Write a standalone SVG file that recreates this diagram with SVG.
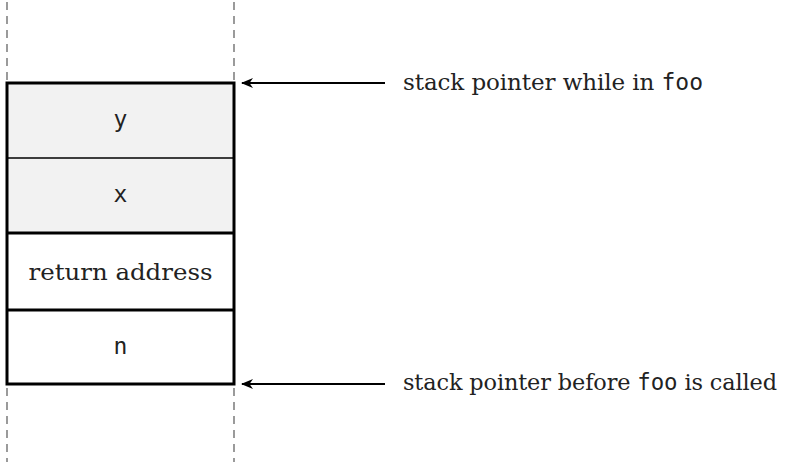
<svg xmlns="http://www.w3.org/2000/svg" width="787" height="462" viewBox="0 0 787 462">
<style>
.serif{font-family:"DejaVu Serif","Liberation Serif",serif;font-size:23px;fill:#222}
.mono{font-family:"DejaVu Sans Mono","Liberation Mono",monospace;font-size:23px;fill:#222}
.cell{stroke:#000;stroke-width:3}
.dash{stroke:#666;stroke-width:1.3;stroke-dasharray:8 6;fill:none}
.arrow{stroke:#000;stroke-width:1.8;fill:none;marker-end:url(#head)}
</style>
<defs>
<marker id="head" viewBox="0 0 12 10" refX="11" refY="5" markerWidth="12" markerHeight="10" markerUnits="userSpaceOnUse" orient="auto">
<path d="M0,0 L12,5 L0,10 L3.5,5 Z" fill="#000"/>
</marker>
</defs>
<g id="guides">
<line class="dash" x1="7" y1="2" x2="7" y2="81"/>
<line class="dash" x1="234" y1="2" x2="234" y2="81"/>
<line class="dash" x1="7" y1="388" x2="7" y2="462"/>
<line class="dash" x1="234" y1="388" x2="234" y2="462"/>
</g>
<g id="node-y">
<rect x="7" y="83" width="227" height="75" fill="#f2f2f2"/>
<text class="mono" x="120.5" y="127" text-anchor="middle">y</text>
</g>
<g id="node-x">
<rect x="7" y="158" width="227" height="75" fill="#f2f2f2"/>
<text class="mono" x="120.5" y="202" text-anchor="middle">x</text>
</g>
<g id="node-return">
<rect x="7" y="233" width="227" height="77" fill="#fff"/>
<text class="serif" x="120.5" y="280" text-anchor="middle" textLength="184" lengthAdjust="spacingAndGlyphs">return address</text>
</g>
<g id="node-n">
<rect x="7" y="310" width="227" height="74" fill="#fff"/>
<text class="mono" x="120.5" y="354" text-anchor="middle">n</text>
</g>
<g id="borders" fill="none">
<line x1="7" y1="158" x2="234" y2="158" stroke="#000" stroke-width="1.4"/>
<line class="cell" x1="7" y1="233" x2="234" y2="233"/>
<line class="cell" x1="7" y1="310" x2="234" y2="310"/>
<rect class="cell" x="7" y="83" width="227" height="301"/>
</g>
<g id="connectors">
<line class="arrow" x1="385" y1="83" x2="242" y2="83"/>
<line class="arrow" x1="385" y1="384" x2="242" y2="384"/>
</g>
<g id="label-top">
<text class="serif" x="403" y="90" textLength="300" lengthAdjust="spacing">stack pointer while in <tspan class="mono">foo</tspan></text>
</g>
<g id="label-bottom">
<text class="serif" x="403" y="390" style="font-size:22.4px" textLength="374" lengthAdjust="spacing">stack pointer before <tspan class="mono" style="font-size:22.4px">foo</tspan> is called</text>
</g>
</svg>
